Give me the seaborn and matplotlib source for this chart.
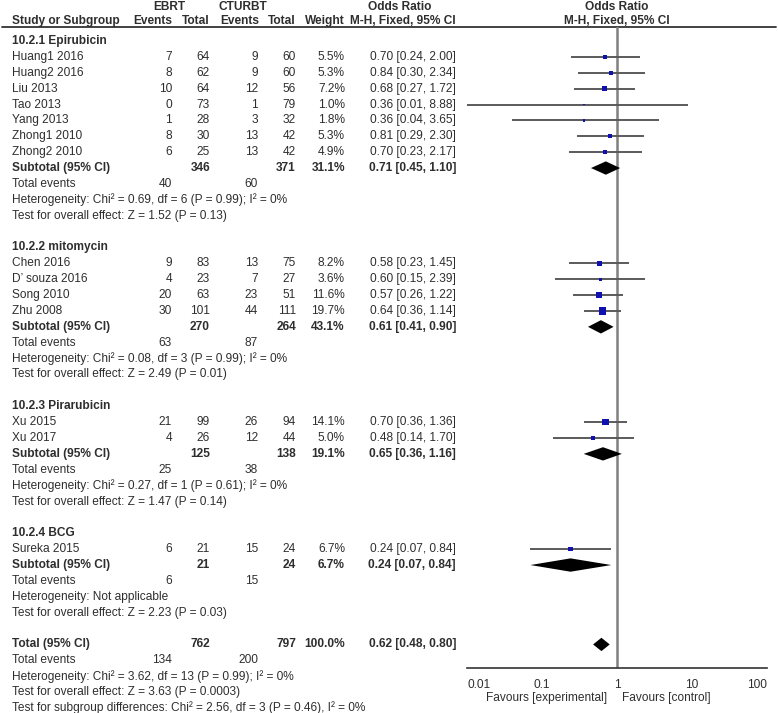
import matplotlib
matplotlib.use("Agg")
import matplotlib.pyplot as plt
import pandas as pd
import seaborn as sns

# ---- data ----
groups = ["10.2.1 Epirubicin", "10.2.2 mitomycin", "10.2.3 Pirarubicin", "10.2.4 BCG"]
study = ["Huang1 2016", "Huang2 2016", "Liu 2013", "Tao 2013", "Yang 2013", "Zhong1 2010", "Zhong2 2010",
         "Chen 2016", "D’ souza 2016", "Song 2010", "Zhu 2008",
         "Xu 2015", "Xu 2017",
         "Sureka 2015"]
grp = [0, 0, 0, 0, 0, 0, 0, 1, 1, 1, 1, 2, 2, 3]
ebrt_ev = [7, 8, 10, 0, 1, 8, 6, 9, 4, 20, 30, 21, 4, 6]
ebrt_n = [64, 62, 64, 73, 28, 30, 25, 83, 23, 63, 101, 99, 26, 21]
ct_ev = [9, 9, 12, 1, 3, 13, 13, 13, 7, 23, 44, 26, 12, 15]
ct_n = [60, 60, 56, 79, 32, 42, 42, 75, 27, 51, 111, 94, 44, 24]
weight = [5.5, 5.3, 7.2, 1.0, 1.8, 5.3, 4.9, 8.2, 3.6, 11.6, 19.7, 14.1, 5.0, 6.7]
odds = [0.70, 0.84, 0.68, 0.36, 0.36, 0.81, 0.70, 0.58, 0.60, 0.57, 0.64, 0.70, 0.48, 0.24]
lo = [0.24, 0.30, 0.27, 0.01, 0.04, 0.29, 0.23, 0.23, 0.15, 0.26, 0.36, 0.36, 0.14, 0.07]
hi = [2.00, 2.34, 1.72, 8.88, 3.65, 2.30, 2.17, 1.45, 2.39, 1.22, 1.14, 1.36, 1.70, 0.84]

sub_n_e = [346, 270, 125, 21]
sub_n_c = [371, 264, 138, 24]
sub_w = [31.1, 43.1, 19.1, 6.7]
sub_or = [0.71, 0.61, 0.65, 0.24]
sub_lo = [0.45, 0.41, 0.36, 0.07]
sub_hi = [1.10, 0.90, 1.16, 0.84]
sub_ev_e = [40, 63, 25, 6]
sub_ev_c = [60, 87, 38, 15]
sub_het = ["Heterogeneity: Chi² = 0.69, df = 6 (P = 0.99); I² = 0%",
           "Heterogeneity: Chi² = 0.08, df = 3 (P = 0.99); I² = 0%",
           "Heterogeneity: Chi² = 0.27, df = 1 (P = 0.61); I² = 0%",
           "Heterogeneity: Not applicable"]
sub_z = ["Test for overall effect: Z = 1.52 (P = 0.13)",
         "Test for overall effect: Z = 2.49 (P = 0.01)",
         "Test for overall effect: Z = 1.47 (P = 0.14)",
         "Test for overall effect: Z = 2.23 (P = 0.03)"]

tot_n_e, tot_n_c, tot_w = 762, 797, 100.0
tot_or, tot_lo, tot_hi = 0.62, 0.48, 0.80
tot_ev_e, tot_ev_c = 134, 200
tot_lines = ["Heterogeneity: Chi² = 3.62, df = 13 (P = 0.99); I² = 0%",
             "Test for overall effect: Z = 3.63 (P = 0.0003)",
             "Test for subgroup differences: Chi² = 2.56, df = 3 (P = 0.46), I² = 0%"]
xticks = [0.01, 0.1, 1, 10, 100]
xtick_labels = ["0.01", "0.1", "1", "10", "100"]

# ---- style ----
sns.set_style("white")
plt.rcParams["font.family"] = ["Liberation Sans", "DejaVu Sans"]
TXT = "#2e2e2e"
FS = 8.6

W, H = 778, 713
ROW0, STEP = 41, 15.88
LX = 12  # left edge of the text column


def row_of(py):
    return (py - ROW0) / STEP


fig = plt.figure(figsize=(W / 100, H / 100), dpi=100)
tab = fig.add_axes([0, 0, 1, 1])
tab.set_xlim(0, W)
tab.set_ylim(row_of(H), row_of(0))
tab.axis("off")

top_px, bot_px, left_px, right_px = 27, 668, 467, 767
ax = fig.add_axes([left_px / W, 1 - bot_px / H, (right_px - left_px) / W, (bot_px - top_px) / H])
ax.set_xscale("log")
ax.set_xlim(0.01, 100)
ax.set_ylim(row_of(bot_px), row_of(top_px))
ax.patch.set_alpha(0)

# column right edges (pixels)
C_EE, C_NE, C_EC, C_NC, C_W, C_OR = 172, 210, 258, 296, 345, 456


def t(x, y, s, ha="left", bold=False):
    tab.text(x, y, s, ha=ha, va="center", fontsize=FS, color=TXT,
             fontweight="bold" if bold else "normal")


# headers
t(169, row_of(7), "EBRT", ha="center", bold=True)
t(243, row_of(7), "CTURBT", ha="center", bold=True)
t(400, row_of(7), "Odds Ratio", ha="center", bold=True)
t(617, row_of(7), "Odds Ratio", ha="center", bold=True)
hy = row_of(21)
t(LX, hy, "Study or Subgroup", bold=True)
t(C_EE, hy, "Events", ha="right", bold=True)
t(C_NE, hy, "Total", ha="right", bold=True)
t(C_EC + 1, hy, "Events", ha="right", bold=True)
t(C_NC, hy, "Total", ha="right", bold=True)
t(C_W, hy, "Weight", ha="right", bold=True)
t(C_OR, hy, "M-H, Fixed, 95% CI", ha="right", bold=True)
t(617, hy, "M-H, Fixed, 95% CI", ha="center", bold=True)
tab.axhline(row_of(27), xmin=2 / W, xmax=776 / W, color="#333333", lw=1.3)

# build rows
rows = []
diamonds = []
i = 0
for g, name in enumerate(groups):
    t(LX, i, name, bold=True)
    i += 1
    for k in range(len(study)):
        if grp[k] != g:
            continue
        t(LX, i, study[k])
        t(C_EE, i, str(ebrt_ev[k]), ha="right")
        t(C_NE, i, str(ebrt_n[k]), ha="right")
        t(C_EC, i, str(ct_ev[k]), ha="right")
        t(C_NC, i, str(ct_n[k]), ha="right")
        t(C_W, i, f"{weight[k]:.1f}%", ha="right")
        t(C_OR, i, f"{odds[k]:.2f} [{lo[k]:.2f}, {hi[k]:.2f}]", ha="right")
        rows.append(dict(y=i, odds=odds[k], lo=lo[k], hi=hi[k], w=weight[k]))
        i += 1
    t(LX, i, "Subtotal (95% CI)", bold=True)
    t(C_NE, i, str(sub_n_e[g]), ha="right", bold=True)
    t(C_NC, i, str(sub_n_c[g]), ha="right", bold=True)
    t(C_W, i, f"{sub_w[g]:.1f}%", ha="right", bold=True)
    t(C_OR, i, f"{sub_or[g]:.2f} [{sub_lo[g]:.2f}, {sub_hi[g]:.2f}]", ha="right", bold=True)
    diamonds.append((i, sub_or[g], sub_lo[g], sub_hi[g]))
    i += 1
    t(LX, i, "Total events")
    t(C_EE, i, str(sub_ev_e[g]), ha="right")
    t(C_EC, i, str(sub_ev_c[g]), ha="right")
    i += 1
    t(LX, i, sub_het[g])
    i += 1
    t(LX, i, sub_z[g])
    i += 2

t(LX, i, "Total (95% CI)", bold=True)
t(C_NE, i, str(tot_n_e), ha="right", bold=True)
t(C_NC, i, str(tot_n_c), ha="right", bold=True)
t(C_W, i, f"{tot_w:.1f}%", ha="right", bold=True)
t(C_OR, i, f"{tot_or:.2f} [{tot_lo:.2f}, {tot_hi:.2f}]", ha="right", bold=True)
diamonds.append((i, tot_or, tot_lo, tot_hi))
i += 1
t(LX, i, "Total events")
t(C_EE, i, str(tot_ev_e), ha="right")
t(C_EC, i, str(tot_ev_c), ha="right")
for line in tot_lines:
    i += 1
    t(LX, i, line)

df = pd.DataFrame(rows)

# ---- forest ----
ax.axvline(1, color="#808080", lw=1.8, zorder=1)
ax.hlines(df["y"], df["lo"], df["hi"], color="#5a5a5a", lw=1.4, zorder=2)
sns.scatterplot(data=df, x="odds", y="y", size="w", sizes=(0, 30), size_norm=(0, 19.7),
                marker="s", color="#1010b0", linewidth=0, legend=False, ax=ax, zorder=3)
dh = 0.42
for y, m, a, b in diamonds:
    ax.fill([a, m, b, m], [y, y - dh, y, y + dh], color="black", lw=0, zorder=4)

ax.set_xticks(xticks)
ax.set_xticklabels(xtick_labels)
ax.minorticks_off()
ax.set_yticks([])
ax.set_xlabel("")
ax.set_ylabel("")
for s in ["top", "left", "right"]:
    ax.spines[s].set_visible(False)
ax.spines["bottom"].set_color("#333333")
ax.spines["bottom"].set_linewidth(1.2)
ax.tick_params(axis="x", direction="inout", length=8, width=1.2, colors="#333333",
               labelsize=FS, labelcolor=TXT, pad=4)
labs = ax.get_xticklabels()
labs[0].set_horizontalalignment("left")
labs[-1].set_horizontalalignment("right")
ax.set_ylim(row_of(bot_px), row_of(top_px))

fy = row_of(698)
t(607, fy, "Favours [experimental]", ha="right")
t(622, fy, "Favours [control]", ha="left")

fig.savefig("out.png", dpi=100)
